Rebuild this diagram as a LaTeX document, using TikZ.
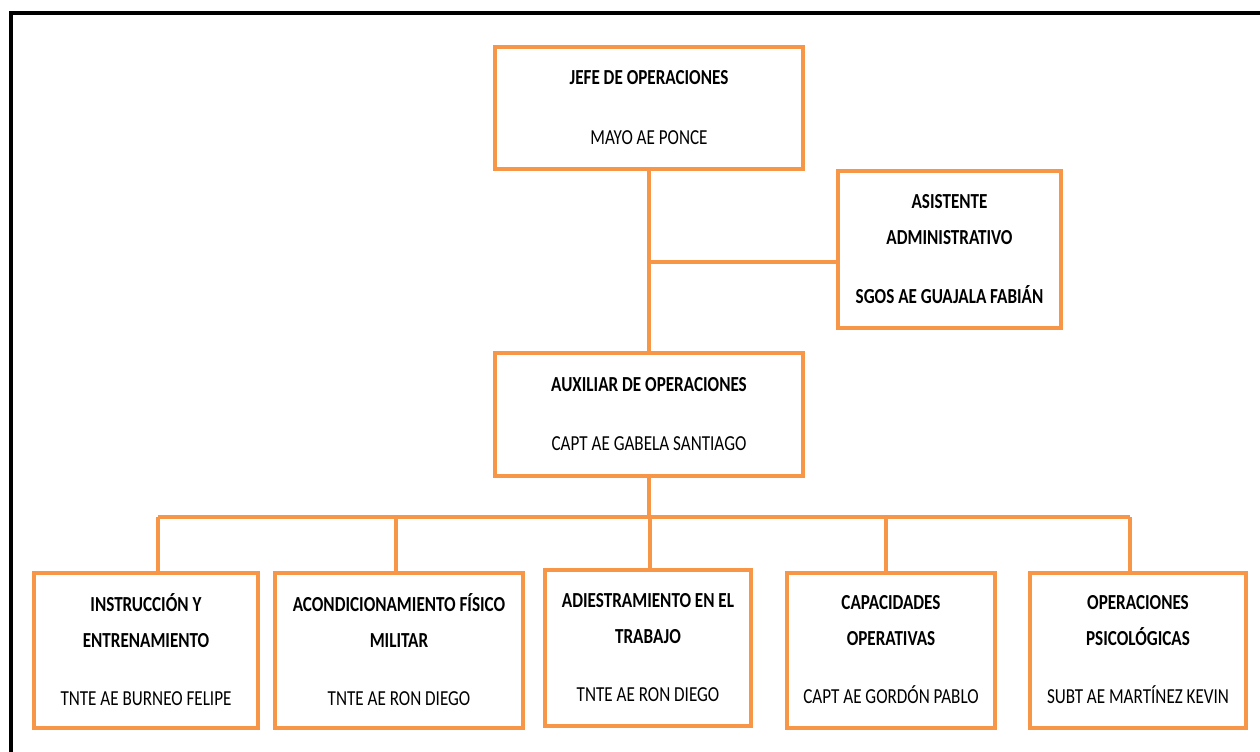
\documentclass[tikz,border=0pt]{standalone}
\usepackage{fontspec}
\setmainfont{Carlito}[FakeStretch=0.8]
\definecolor{orgorange}{HTML}{F79646}

\begin{document}
\begin{tikzpicture}[x=0.5pt,y=-0.5pt]
    \tikzset{
        orgbox/.style={draw=orgorange, line width=2pt, fill=white, align=center,
            inner sep=0pt, font=\fontsize{10.7}{18}\selectfont},
        orgline/.style={draw=orgorange, line width=2pt}
    }
    \useasboundingbox (0,0) rectangle (1260,751);
    \draw[line width=2pt] (11,800)--(11,13)--(1300,13);

    \node[orgbox, minimum width=154pt, minimum height=61pt] (jefe) at (649,107.5)
        {\textbf{JEFE DE OPERACIONES}\\[12pt]MAYO AE PONCE};
    \node[orgbox, minimum width=111.5pt, minimum height=78.5pt] (asist) at (949.5,249)
        {\textbf{ASISTENTE}\\\textbf{ADMINISTRATIVO}\\[11.5pt]\textbf{SGOS AE GUAJALA FABIÁN}};
    \node[orgbox, minimum width=154pt, minimum height=61.5pt] (aux) at (649,414)
        {\textbf{AUXILIAR DE OPERACIONES}\\[11.5pt]CAPT AE GABELA SANTIAGO};

    \node[orgbox, minimum width=112pt, minimum height=77.5pt] (instr) at (146,650)
        {\textbf{INSTRUCCIÓN Y}\\\textbf{ENTRENAMIENTO}\\[11pt]TNTE AE BURNEO FELIPE};
    \node[orgbox, minimum width=124pt, minimum height=77.5pt] (acond) at (399,650)
        {\textbf{ACONDICIONAMIENTO FÍSICO}\\\textbf{MILITAR}\\[11pt]TNTE AE RON DIEGO};
    \node[orgbox, minimum width=103pt, minimum height=78pt] (adiest) at (648,647.5)
        {\textbf{ADIESTRAMIENTO EN EL}\\\textbf{TRABAJO}\\[11pt]TNTE AE RON DIEGO};
    \node[orgbox, minimum width=104pt, minimum height=77.5pt] (capac) at (891,650)
        {\textbf{CAPACIDADES}\\\textbf{OPERATIVAS}\\[11pt]CAPT AE GORDÓN PABLO};
    \node[orgbox, minimum width=108pt, minimum height=77.5pt] (psico) at (1138,650)
        {\textbf{OPERACIONES}\\\textbf{PSICOLÓGICAS}\\[11pt]SUBT AE MARTÍNEZ KEVIN};

    % jefe -> auxiliar, with the assistant on the side
    \draw[orgline] (jefe.south)--(aux.north);
    \coordinate (asistin) at ([yshift=-6.5pt]asist.west);
    \draw[orgline] (asistin)--(asistin -| jefe.south);

    % auxiliar -> sections
    \coordinate (bus) at (649,517);
    \coordinate (d1) at ([xshift=6pt]instr.north);
    \coordinate (d2) at ([xshift=-1.5pt]acond.north);
    \coordinate (d3) at ([xshift=1pt]adiest.north);
    \coordinate (d4) at ([xshift=-2.5pt]capac.north);
    \coordinate (d5) at ([xshift=-4pt]psico.north);
    \draw[orgline] (aux.south)--(bus);
    \draw[orgline] (d1 |- bus)--(d5 |- bus);
    \draw[orgline] (d1)--(d1 |- bus);
    \draw[orgline] (d2)--(d2 |- bus);
    \draw[orgline] (d3)--(d3 |- bus);
    \draw[orgline] (d4)--(d4 |- bus);
    \draw[orgline] (d5)--(d5 |- bus);
\end{tikzpicture}
\end{document}
